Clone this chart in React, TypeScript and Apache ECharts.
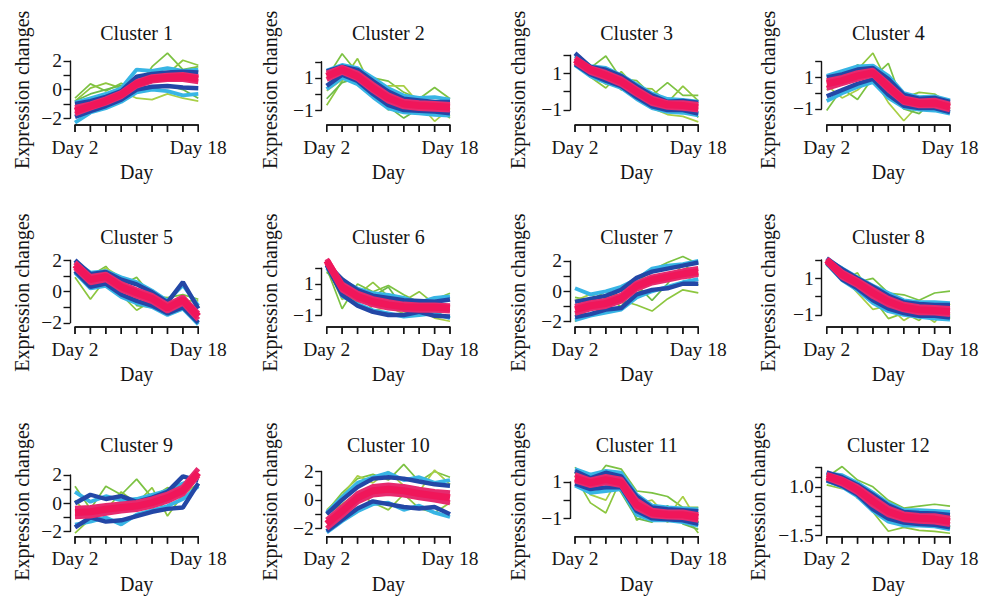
import React, { useEffect, useRef } from "react";
import * as echarts from "echarts";

// Time points on the shared x axis
const days = ["Day 2", "Day 4", "Day 6", "Day 8", "Day 10", "Day 12", "Day 14", "Day 16", "Day 18"];
const clusterNames = [
  "Cluster 1", "Cluster 2", "Cluster 3", "Cluster 4",
  "Cluster 5", "Cluster 6", "Cluster 7", "Cluster 8",
  "Cluster 9", "Cluster 10", "Cluster 11", "Cluster 12",
];

// Expression profiles per cluster, grouped by membership tier
// (green = low membership ... red = core members)
const c1Green = [
  [-0.6, 0.4, -0.1, 0.45, 0.0, 1.6, 2.55, 1.4, 1.6],
  [-0.8, 0.1, 0.45, 0.1, 0.8, 1.3, 1.1, 2.05, 1.7],
  [-1.0, -0.7, -0.5, -0.1, -0.6, -0.7, -0.3, -0.6, -0.8],
  [-0.8, -0.3, 0.0, 0.3, 0.1, 0.0, 0.3, 0.0, -0.6],
];
const c1Cyan = [
  [-0.9, -0.6, -0.3, 0.1, 1.4, 1.3, 1.5, 1.3, 1.4],
  [-2.3, -1.6, -1.3, -0.85, -0.2, 0.0, -0.1, -0.4, -0.3],
];
const c1Blue = [
  [-1.0, -0.8, -0.5, -0.1, 0.9, 1.1, 1.2, 1.25, 1.2],
  [-1.9, -1.5, -1.15, -0.7, 0.0, 0.2, 0.25, 0.15, 0.1],
];
const c1Red = [
  [-1.25, -1.0, -0.65, -0.2, 0.55, 0.9, 1.0, 1.05, 0.9],
  [-1.7, -1.3, -0.95, -0.5, 0.25, 0.6, 0.7, 0.7, 0.55],
  [-1.5, -1.15, -0.8, -0.35, 0.4, 0.75, 0.85, 0.9, 0.75],
];

const c2Green = [
  [1.0, 2.5, 1.3, 1.0, 0.8, 0.1, -0.3, 0.4, -0.3],
  [-0.7, 0.8, 2.2, 0.2, -1.0, -0.5, -1.2, -0.8, -1.5],
  [0.2, 0.9, 0.9, -0.1, 0.5, 0.5, -0.6, -1.7, -0.9],
  [-0.3, 0.7, 1.0, 0.6, -0.8, -1.5, -0.9, -0.7, -1.4],
];
const c2Cyan = [
  [1.45, 1.8, 1.6, 1.0, 0.35, -0.1, -0.25, -0.2, -0.35],
  [0.3, 1.0, 0.6, -0.2, -0.9, -1.15, -1.2, -1.3, -1.35],
];
const c2Blue = [
  [1.4, 1.7, 1.5, 0.8, 0.15, -0.3, -0.4, -0.5, -0.5],
  [0.5, 1.2, 0.8, 0.0, -0.7, -1.0, -1.05, -1.1, -1.2],
];
const c2Red = [
  [1.3, 1.65, 1.3, 0.6, -0.05, -0.45, -0.55, -0.6, -0.65],
  [0.9, 1.35, 0.95, 0.2, -0.45, -0.8, -0.9, -0.95, -1.0],
  [1.1, 1.5, 1.1, 0.37, -0.25, -0.62, -0.72, -0.77, -0.83],
];

const c3Green = [
  [1.9, 1.3, 1.95, 0.7, 0.6, -0.2, 0.5, -0.2, -0.2],
  [1.6, 0.8, 0.2, 1.1, 0.2, 0.15, -0.6, 0.3, -0.5],
  [1.7, 1.1, 0.4, 0.5, -0.3, -0.9, -1.25, -1.35, -1.65],
  [1.8, 0.9, 1.0, 0.1, 0.3, -0.7, -1.1, -0.5, -1.4],
];
const c3Cyan = [
  [1.95, 1.4, 1.3, 0.9, 0.4, -0.1, -0.4, -0.45, -0.55],
  [1.45, 0.85, 0.5, 0.2, -0.4, -0.9, -1.1, -1.15, -1.3],
];
const c3Blue = [
  [2.1, 1.35, 1.2, 0.85, 0.3, -0.2, -0.55, -0.5, -0.6],
  [1.5, 0.95, 0.6, 0.3, -0.3, -0.8, -1.0, -1.0, -1.2],
];
const c3Red = [
  [1.85, 1.3, 1.05, 0.7, 0.15, -0.35, -0.6, -0.6, -0.7],
  [1.6, 1.05, 0.75, 0.4, -0.15, -0.65, -0.85, -0.9, -1.0],
  [1.75, 1.2, 0.9, 0.55, 0.0, -0.5, -0.72, -0.75, -0.87],
];

const c4Green = [
  [-1.1, 0.3, -0.4, 1.0, 1.9, -0.8, -1.0, -0.7, -1.1],
  [0.2, 1.1, 1.5, 2.55, 0.6, -0.3, 0.05, -0.05, -0.7],
  [0.5, -0.3, 0.2, 1.0, -0.6, -1.75, -0.7, -0.9, -1.0],
  [0.9, 0.6, 1.8, 1.2, 0.3, -1.0, -1.3, -0.4, -1.0],
];
const c4Cyan = [
  [1.1, 1.4, 1.7, 1.75, 1.1, 0.0, -0.25, -0.2, -0.45],
  [-0.5, 0.0, 0.4, 0.7, -0.3, -0.9, -1.05, -1.1, -1.3],
];
const c4Blue = [
  [1.0, 1.2, 1.5, 1.6, 0.9, -0.1, -0.35, -0.3, -0.55],
  [-0.2, 0.2, 0.6, 0.9, -0.1, -0.8, -0.95, -0.95, -1.2],
];
const c4Red = [
  [0.8, 1.0, 1.3, 1.45, 0.6, -0.3, -0.5, -0.45, -0.7],
  [0.3, 0.6, 0.9, 1.15, 0.2, -0.6, -0.8, -0.8, -1.05],
  [0.6, 0.8, 1.1, 1.3, 0.4, -0.45, -0.65, -0.62, -0.88],
];

const c5Green = [
  [1.2, 1.0, 1.6, 0.4, 0.9, -0.3, -0.4, -0.2, -0.5],
  [0.9, -0.5, 0.8, -0.2, -1.2, -0.6, -1.5, -0.9, -1.9],
  [1.1, 0.8, 1.5, 0.9, -0.5, 0.1, -0.9, -0.6, -0.6],
  [1.4, 0.4, 0.3, 0.6, -0.9, -1.0, -0.8, -1.2, -1.3],
];
const c5Cyan = [
  [1.9, 1.2, 1.3, 0.9, 0.6, 0.05, -0.6, 0.4, -0.9],
  [1.2, 0.2, 0.35, -0.35, -0.75, -1.0, -1.5, -1.1, -2.1],
];
const c5Blue = [
  [2.0, 1.1, 1.25, 0.75, 0.45, -0.05, -0.7, 0.6, -1.1],
  [1.3, 0.3, 0.5, -0.2, -0.6, -0.9, -1.4, -1.0, -2.0],
];
const c5Red = [
  [1.85, 0.95, 1.1, 0.5, 0.1, -0.25, -0.85, -0.35, -1.4],
  [1.5, 0.55, 0.75, 0.1, -0.3, -0.65, -1.25, -0.75, -1.8],
  [1.7, 0.75, 0.95, 0.3, -0.1, -0.45, -1.05, -0.55, -1.6],
];

const c6Green = [
  [2.0, -0.6, 1.0, 0.5, 0.9, 0.3, -0.2, 0.0, 0.4],
  [1.7, 1.4, 0.3, 1.1, 0.2, -0.1, 0.5, -0.3, -0.4],
  [2.1, 0.0, 0.6, -0.7, -0.5, -0.9, -0.6, -1.2, -1.4],
  [1.8, 0.5, -0.2, 0.2, 0.8, -0.6, -1.0, -0.8, -1.2],
];
const c6Cyan = [
  [2.0, 1.2, 0.7, 0.4, 0.3, 0.1, -0.2, 0.1, 0.2],
  [2.4, 0.2, -0.3, -0.7, -0.9, -1.1, -1.0, -0.9, -1.2],
];
const c6Blue = [
  [2.3, 1.3, 0.6, 0.25, 0.1, -0.05, -0.1, -0.15, 0.0],
  [2.2, 0.3, -0.4, -0.8, -1.0, -1.0, -0.8, -1.05, -1.1],
];
const c6Red = [
  [2.6, 1.0, 0.4, 0.05, -0.15, -0.3, -0.35, -0.35, -0.4],
  [2.35, 0.6, 0.0, -0.35, -0.55, -0.65, -0.7, -0.7, -0.75],
  [2.5, 0.8, 0.2, -0.15, -0.35, -0.47, -0.5, -0.5, -0.57],
];

const c7Green = [
  [-0.4, -0.6, 0.0, -0.3, 0.6, 1.4, 1.9, 2.3, 1.8],
  [-2.0, -0.9, -1.1, -0.6, -0.9, -1.3, -0.5, 0.1, -0.1],
  [-0.6, -0.2, -0.7, 0.2, -0.2, 0.8, 1.0, 1.2, 0.4],
  [-1.5, -1.2, -0.4, -1.0, 0.4, -0.6, 0.5, 1.8, 1.0],
];
const c7Cyan = [
  [0.2, -0.2, 0.0, 0.3, 0.8, 1.5, 1.7, 1.8, 2.0],
  [-1.9, -1.6, -1.4, -1.2, -0.4, 0.0, 0.3, 0.6, 0.8],
];
const c7Blue = [
  [-0.7, -0.5, -0.3, 0.1, 0.9, 1.3, 1.5, 1.7, 1.9],
  [-1.7, -1.5, -1.2, -1.1, -0.2, 0.1, 0.2, 0.5, 0.5],
];
const c7Red = [
  [-1.0, -0.75, -0.6, -0.25, 0.55, 0.95, 1.15, 1.35, 1.5],
  [-1.45, -1.15, -1.0, -0.65, 0.15, 0.55, 0.75, 0.95, 1.1],
  [-1.2, -0.95, -0.8, -0.45, 0.35, 0.75, 0.95, 1.15, 1.3],
];

const c8Green = [
  [1.8, 1.6, 0.8, 1.0, 0.2, 0.1, -0.2, 0.2, 0.3],
  [1.95, 0.9, 1.3, -0.1, -1.2, -0.9, -1.3, -0.5, -1.0],
  [1.7, 1.1, 0.2, -0.7, -0.5, -1.3, -0.8, -1.4, -0.4],
  [1.9, 1.4, 0.6, 0.4, -0.7, -0.3, -0.9, -0.3, -1.2],
];
const c8Cyan = [
  [2.0, 1.55, 1.05, 0.6, 0.2, -0.2, -0.3, -0.3, -0.35],
  [1.8, 0.9, 0.35, -0.35, -0.8, -1.0, -1.1, -1.2, -1.25],
];
const c8Blue = [
  [2.1, 1.5, 1.0, 0.55, 0.05, -0.3, -0.4, -0.45, -0.45],
  [1.85, 0.95, 0.45, -0.2, -0.65, -0.9, -1.05, -1.05, -1.15],
];
const c8Red = [
  [2.05, 1.35, 0.9, 0.4, -0.1, -0.42, -0.55, -0.6, -0.65],
  [1.9, 1.05, 0.6, 0.0, -0.45, -0.72, -0.88, -0.9, -0.98],
  [2.0, 1.2, 0.75, 0.2, -0.27, -0.58, -0.72, -0.76, -0.82],
];

const c9Green = [
  [1.2, -0.4, 1.2, 0.6, 1.7, 0.4, 1.1, 0.8, 1.2],
  [-2.1, -1.1, -0.5, 0.8, 0.0, 1.1, -0.9, 0.6, 1.4],
  [0.2, -1.0, -0.8, -0.4, 0.3, -0.3, 0.5, 0.9, 1.1],
];
const c9Cyan = [
  [0.8, 0.1, 0.5, 0.2, 0.3, 0.6, 0.9, 1.4, 1.8],
  [-1.5, -1.3, -1.0, -1.5, -0.8, -0.5, -0.2, 0.3, 1.2],
];
const c9Blue = [
  [0.0, 0.6, 0.3, 0.5, 0.1, 0.4, 0.8, 1.9, 1.6],
  [-1.7, -1.0, -1.3, -1.2, -0.9, -0.6, -0.4, -0.3, 1.4],
];
const c9Red = [
  [-0.35, -0.3, -0.15, -0.05, 0.05, 0.3, 0.65, 1.15, 2.45],
  [-0.95, -0.9, -0.7, -0.55, -0.45, -0.2, 0.15, 0.65, 1.95],
  [-0.65, -0.6, -0.42, -0.3, -0.2, 0.05, 0.4, 0.9, 2.15],
];

const c10Green = [
  [-0.8, 0.5, 1.5, 1.8, 1.4, 2.5, 1.3, 2.0, 1.6],
  [-1.0, -0.3, 0.5, -0.2, -0.7, 0.4, -0.6, -0.9, -0.2],
  [-0.7, 0.3, 1.7, 1.2, 2.0, 1.0, 0.6, 2.1, 1.1],
];
const c10Cyan = [
  [-0.9, 0.2, 1.2, 1.6, 1.9, 1.4, 1.6, 1.2, 1.4],
  [-2.3, -1.5, -0.8, -0.3, -0.2, -0.7, -0.4, -0.9, -1.2],
];
const c10Blue = [
  [-1.0, 0.0, 0.9, 1.5, 1.6, 1.5, 1.3, 1.1, 1.0],
  [-2.2, -1.4, -0.6, -0.1, -0.3, -0.5, -0.6, -0.5, -1.0],
];
const c10Red = [
  [-1.4, -0.5, 0.45, 0.95, 1.05, 0.95, 0.75, 0.6, 0.5],
  [-2.0, -1.1, -0.15, 0.35, 0.45, 0.35, 0.15, 0.0, -0.2],
  [-1.7, -0.8, 0.15, 0.65, 0.75, 0.65, 0.45, 0.3, 0.15],
];

const c11Green = [
  [1.8, 0.8, 1.9, 1.7, 0.5, 0.4, 0.2, -0.4, -0.4],
  [1.3, -0.15, -0.7, 1.2, -1.1, -0.6, -1.2, -0.7, -1.8],
  [1.5, 0.3, 0.0, 1.5, -0.2, 0.0, -0.9, 0.2, -1.2],
  [1.0, 0.5, 1.6, 0.4, -1.0, -1.2, -0.3, -1.3, -1.6],
];
const c11Cyan = [
  [1.7, 1.4, 1.6, 1.5, 0.3, -0.3, -0.4, -0.45, -0.5],
  [0.8, 0.4, 0.5, 0.6, -0.8, -1.1, -1.1, -1.2, -1.4],
];
const c11Blue = [
  [1.6, 1.2, 1.5, 1.3, 0.2, -0.4, -0.5, -0.55, -0.6],
  [0.9, 0.6, 0.7, 0.7, -0.6, -1.0, -1.05, -1.1, -1.3],
];
const c11Red = [
  [1.4, 1.1, 1.3, 1.15, 0.0, -0.55, -0.65, -0.65, -0.8],
  [1.05, 0.8, 0.95, 0.8, -0.45, -0.85, -0.92, -0.95, -1.1],
  [1.2, 0.95, 1.12, 0.95, -0.25, -0.7, -0.78, -0.8, -0.95],
];

const c12Green = [
  [1.5, 2.05, 1.35, 1.0, 0.3, -0.1, 0.0, 0.1, 0.0],
  [1.1, 0.9, 0.9, -0.3, -1.3, -1.1, -1.25, -1.3, -1.4],
  [1.3, 1.6, 0.4, 0.6, -0.6, -0.3, -0.9, -0.2, -1.1],
  [1.6, 1.2, 1.1, 0.1, 0.0, -0.9, -0.4, -0.9, -0.5],
];
const c12Cyan = [
  [1.7, 1.6, 1.2, 0.7, 0.15, -0.2, -0.2, -0.25, -0.3],
  [1.3, 1.0, 0.5, -0.25, -0.8, -1.0, -1.0, -1.05, -1.2],
];
const c12Blue = [
  [1.75, 1.5, 1.1, 0.6, 0.05, -0.3, -0.35, -0.38, -0.45],
  [1.35, 1.05, 0.6, -0.15, -0.65, -0.85, -0.92, -0.97, -1.1],
];
const c12Red = [
  [1.65, 1.4, 1.0, 0.45, -0.1, -0.4, -0.48, -0.5, -0.62],
  [1.45, 1.15, 0.7, 0.05, -0.45, -0.7, -0.78, -0.82, -0.95],
  [1.55, 1.3, 0.85, 0.25, -0.28, -0.55, -0.63, -0.67, -0.8],
];

const greenTier = [c1Green, c2Green, c3Green, c4Green, c5Green, c6Green, c7Green, c8Green, c9Green, c10Green, c11Green, c12Green];
const cyanTier = [c1Cyan, c2Cyan, c3Cyan, c4Cyan, c5Cyan, c6Cyan, c7Cyan, c8Cyan, c9Cyan, c10Cyan, c11Cyan, c12Cyan];
const blueTier = [c1Blue, c2Blue, c3Blue, c4Blue, c5Blue, c6Blue, c7Blue, c8Blue, c9Blue, c10Blue, c11Blue, c12Blue];
const redTier = [c1Red, c2Red, c3Red, c4Red, c5Red, c6Red, c7Red, c8Red, c9Red, c10Red, c11Red, c12Red];

// y-axis ticks of each panel and the values that carry a label
const tickMin = [-2, -1, -1, -1, -2, -1, -2, -1, -2, -2, -1, -1.5];
const tickMax = [2, 2, 2, 2, 2, 2, 2, 2, 2, 2, 1, 2];
const tickStep = [1, 1, 1, 1, 1, 1, 1, 1, 1, 1, 1, 0.5];
const labelledTicks = [
  [2, 0, -2], [1, -1], [1, -1], [1, -1],
  [2, 0, -2], [1, -1], [2, 0, -2], [1, -1],
  [2, 0, -2], [2, 0, -2], [1, -1], [1, -1.5],
];
const tickDecimals = [0, 0, 0, 0, 0, 0, 0, 0, 0, 0, 0, 1];

// Full vertical extent of each plotting region, in data units
const rangeLow = [-2.47, -1.93, -1.82, -2.02, -2.27, -1.77, -2.35, -1.66, -2.36, -2.59, -2.0, -1.58];
const rangeHigh = [2.73, 2.7, 2.25, 2.71, 2.39, 2.92, 2.46, 2.33, 2.89, 2.65, 2.07, 2.27];

// Page layout of the 4 x 3 panel grid
const colAxisX = [70, 321.7, 570, 821.7];
const rowTop = [50.5, 254, 462.3];
const rowBottom = [125, 327, 536.7];
const yNameX = [22, 270, 518, 768, 22, 270, 518, 768, 22, 270, 518, 758];
const DATA_WIDTH = 123.3;
const AXIS_GAP = 5;
const TICK_LEN = 7;
const RULE = 1.4;

const FONT = '"Liberation Serif", "Times New Roman", "DejaVu Serif", serif';
const INK = "#141414";

const TIER_STYLES = {
  green: ["#7cc242", "#8dc63f", "#a9cf45", "#6dbb4a"],
  cyan: "#38b5e5",
  blue: "#2347a6",
  rose: "#e62a6e",
  core: "#f0165a",
};

function fmtTick(v: number, i: number) {
  const hit = labelledTicks[i].find((t) => Math.abs(t - v) < 1e-6);
  if (hit === undefined) return "";
  const s = Math.abs(hit).toFixed(tickDecimals[i]);
  return hit < 0 ? "\u2212" + s : s;
}

function buildOption() {
  const grid: any[] = [];
  const xAxis: any[] = [];
  const yAxis: any[] = [];
  const series: any[] = [];
  const graphic: any[] = [];
  const labelFont = { fontFamily: FONT, fontSize: 19.5, color: INK };
  const stroke = { color: INK, width: RULE };

  clusterNames.forEach((name, i) => {
    const row = Math.floor(i / 4);
    const col = i % 4;
    const top = rowTop[row];
    const bottom = rowBottom[row];
    const h = bottom - top;
    const lo = rangeLow[i];
    const hi = rangeHigh[i];
    const toPx = (v: number) => top + ((hi - v) / (hi - lo)) * h;
    const gTop = toPx(tickMax[i]);
    const gBot = toPx(tickMin[i]);
    const left = colAxisX[col] + AXIS_GAP;
    const dataIdx = 2 * i;
    const baseIdx = 2 * i + 1;

    // Data grid: spans the labelled tick range; profiles may run past it
    grid.push({ left, top: gTop, width: DATA_WIDTH, height: gBot - gTop });
    // Strip below the plotting region that carries the day labels
    grid.push({ left, top: bottom, width: DATA_WIDTH, height: TICK_LEN });

    xAxis.push({
      type: "category",
      gridIndex: dataIdx,
      data: days,
      boundaryGap: false,
      show: false,
    });
    xAxis.push({
      type: "category",
      gridIndex: baseIdx,
      data: days,
      boundaryGap: false,
      axisLine: { show: false },
      axisTick: { show: false },
      splitLine: { show: false },
      axisLabel: {
        interval: (idx: number) => idx === 0 || idx === days.length - 1,
        margin: 5,
        ...labelFont,
      },
      name: "Day",
      nameLocation: "middle",
      nameGap: 30,
      nameTextStyle: { fontFamily: FONT, fontSize: 20, color: INK },
    });

    yAxis.push({
      type: "value",
      gridIndex: dataIdx,
      min: tickMin[i],
      max: tickMax[i],
      interval: tickStep[i],
      offset: AXIS_GAP,
      axisLine: { show: true, lineStyle: stroke },
      axisTick: { show: true, length: 6.5, lineStyle: stroke },
      axisLabel: {
        formatter: (v: number) => fmtTick(v, i),
        margin: 8,
        ...labelFont,
      },
      splitLine: { show: false },
    });
    yAxis.push({
      type: "value",
      gridIndex: baseIdx,
      min: 0,
      max: 1,
      show: false,
    });

    const addLine = (data: number[], color: string, width: number) => {
      series.push({
        type: "line",
        xAxisIndex: dataIdx,
        yAxisIndex: dataIdx,
        data,
        symbol: "none",
        clip: false,
        silent: true,
        lineStyle: { color, width },
        emphasis: { disabled: true },
      });
    };

    greenTier[i].forEach((p, k) => addLine(p, TIER_STYLES.green[k % TIER_STYLES.green.length], 1.7));
    cyanTier[i].forEach((p) => addLine(p, TIER_STYLES.cyan, 3.8));
    blueTier[i].forEach((p) => addLine(p, TIER_STYLES.blue, 4.4));
    redTier[i].forEach((p, k) => {
      const isCore = k === redTier[i].length - 1;
      addLine(p, isCore ? TIER_STYLES.core : TIER_STYLES.rose, isCore ? 7 : 5);
    });

    // Time axis drawn in the panel's own coordinates: a rule at the lower
    // edge of the plotting region with a downward tick at every sampled day
    series.push({
      type: "custom",
      coordinateSystem: "cartesian2d",
      xAxisIndex: dataIdx,
      yAxisIndex: dataIdx,
      data: [[0, lo]],
      clip: false,
      silent: true,
      z: 20,
      renderItem: (params: any, api: any) => {
        const start = api.coord([0, lo]);
        const end = api.coord([days.length - 1, lo]);
        const children: any[] = [
          {
            type: "line",
            shape: { x1: start[0], y1: start[1], x2: end[0], y2: end[1] },
            style: { stroke: INK, lineWidth: RULE, fill: null },
          },
        ];
        days.forEach((_, k) => {
          const p = api.coord([k, lo]);
          children.push({
            type: "line",
            shape: { x1: p[0], y1: p[1], x2: p[0], y2: p[1] + TICK_LEN },
            style: { stroke: INK, lineWidth: RULE, fill: null },
          });
        });
        return { type: "group", children };
      },
    });

    // Same rule and ticks as filled shapes on an upper layer
    const rule = { fill: INK, stroke: null as any, lineWidth: 0 };
    graphic.push({
      type: "rect",
      silent: true,
      zlevel: 1,
      z: 100,
      shape: { x: left - RULE / 2, y: bottom - RULE / 2, width: DATA_WIDTH + RULE, height: RULE },
      style: rule,
    });
    days.forEach((_, k) => {
      const x = left + (k * DATA_WIDTH) / (days.length - 1);
      graphic.push({
        type: "rect",
        silent: true,
        zlevel: 1,
        z: 100,
        shape: { x: x - RULE / 2, y: bottom, width: RULE, height: TICK_LEN },
        style: rule,
      });
    });

    graphic.push({
      type: "text",
      x: left + DATA_WIDTH / 2,
      y: top - 17.5,
      silent: true,
      style: {
        text: name,
        fontFamily: FONT,
        fontSize: 20,
        fill: INK,
        align: "center",
        verticalAlign: "middle",
      },
    });
    graphic.push({
      type: "text",
      x: yNameX[i],
      y: (top + bottom) / 2 + 2,
      rotation: Math.PI / 2,
      silent: true,
      style: {
        text: "Expression changes",
        fontFamily: FONT,
        fontSize: 20,
        fill: INK,
        align: "center",
        verticalAlign: "middle",
      },
    });
  });

  return {
    animation: false,
    backgroundColor: "#ffffff",
    grid,
    xAxis,
    yAxis,
    series,
    graphic,
  };
}

export default function App() {
  const ref = useRef<HTMLDivElement | null>(null);

  useEffect(() => {
    if (!ref.current) return;
    const chart = echarts.init(ref.current, undefined, { renderer: "svg" });
    chart.setOption(buildOption() as any);
    return () => chart.dispose();
  }, []);

  return (
    <div
      ref={ref}
      style={{ position: "absolute", left: 0, top: 0, width: 988, height: 601, background: "#fff" }}
    />
  );
}
